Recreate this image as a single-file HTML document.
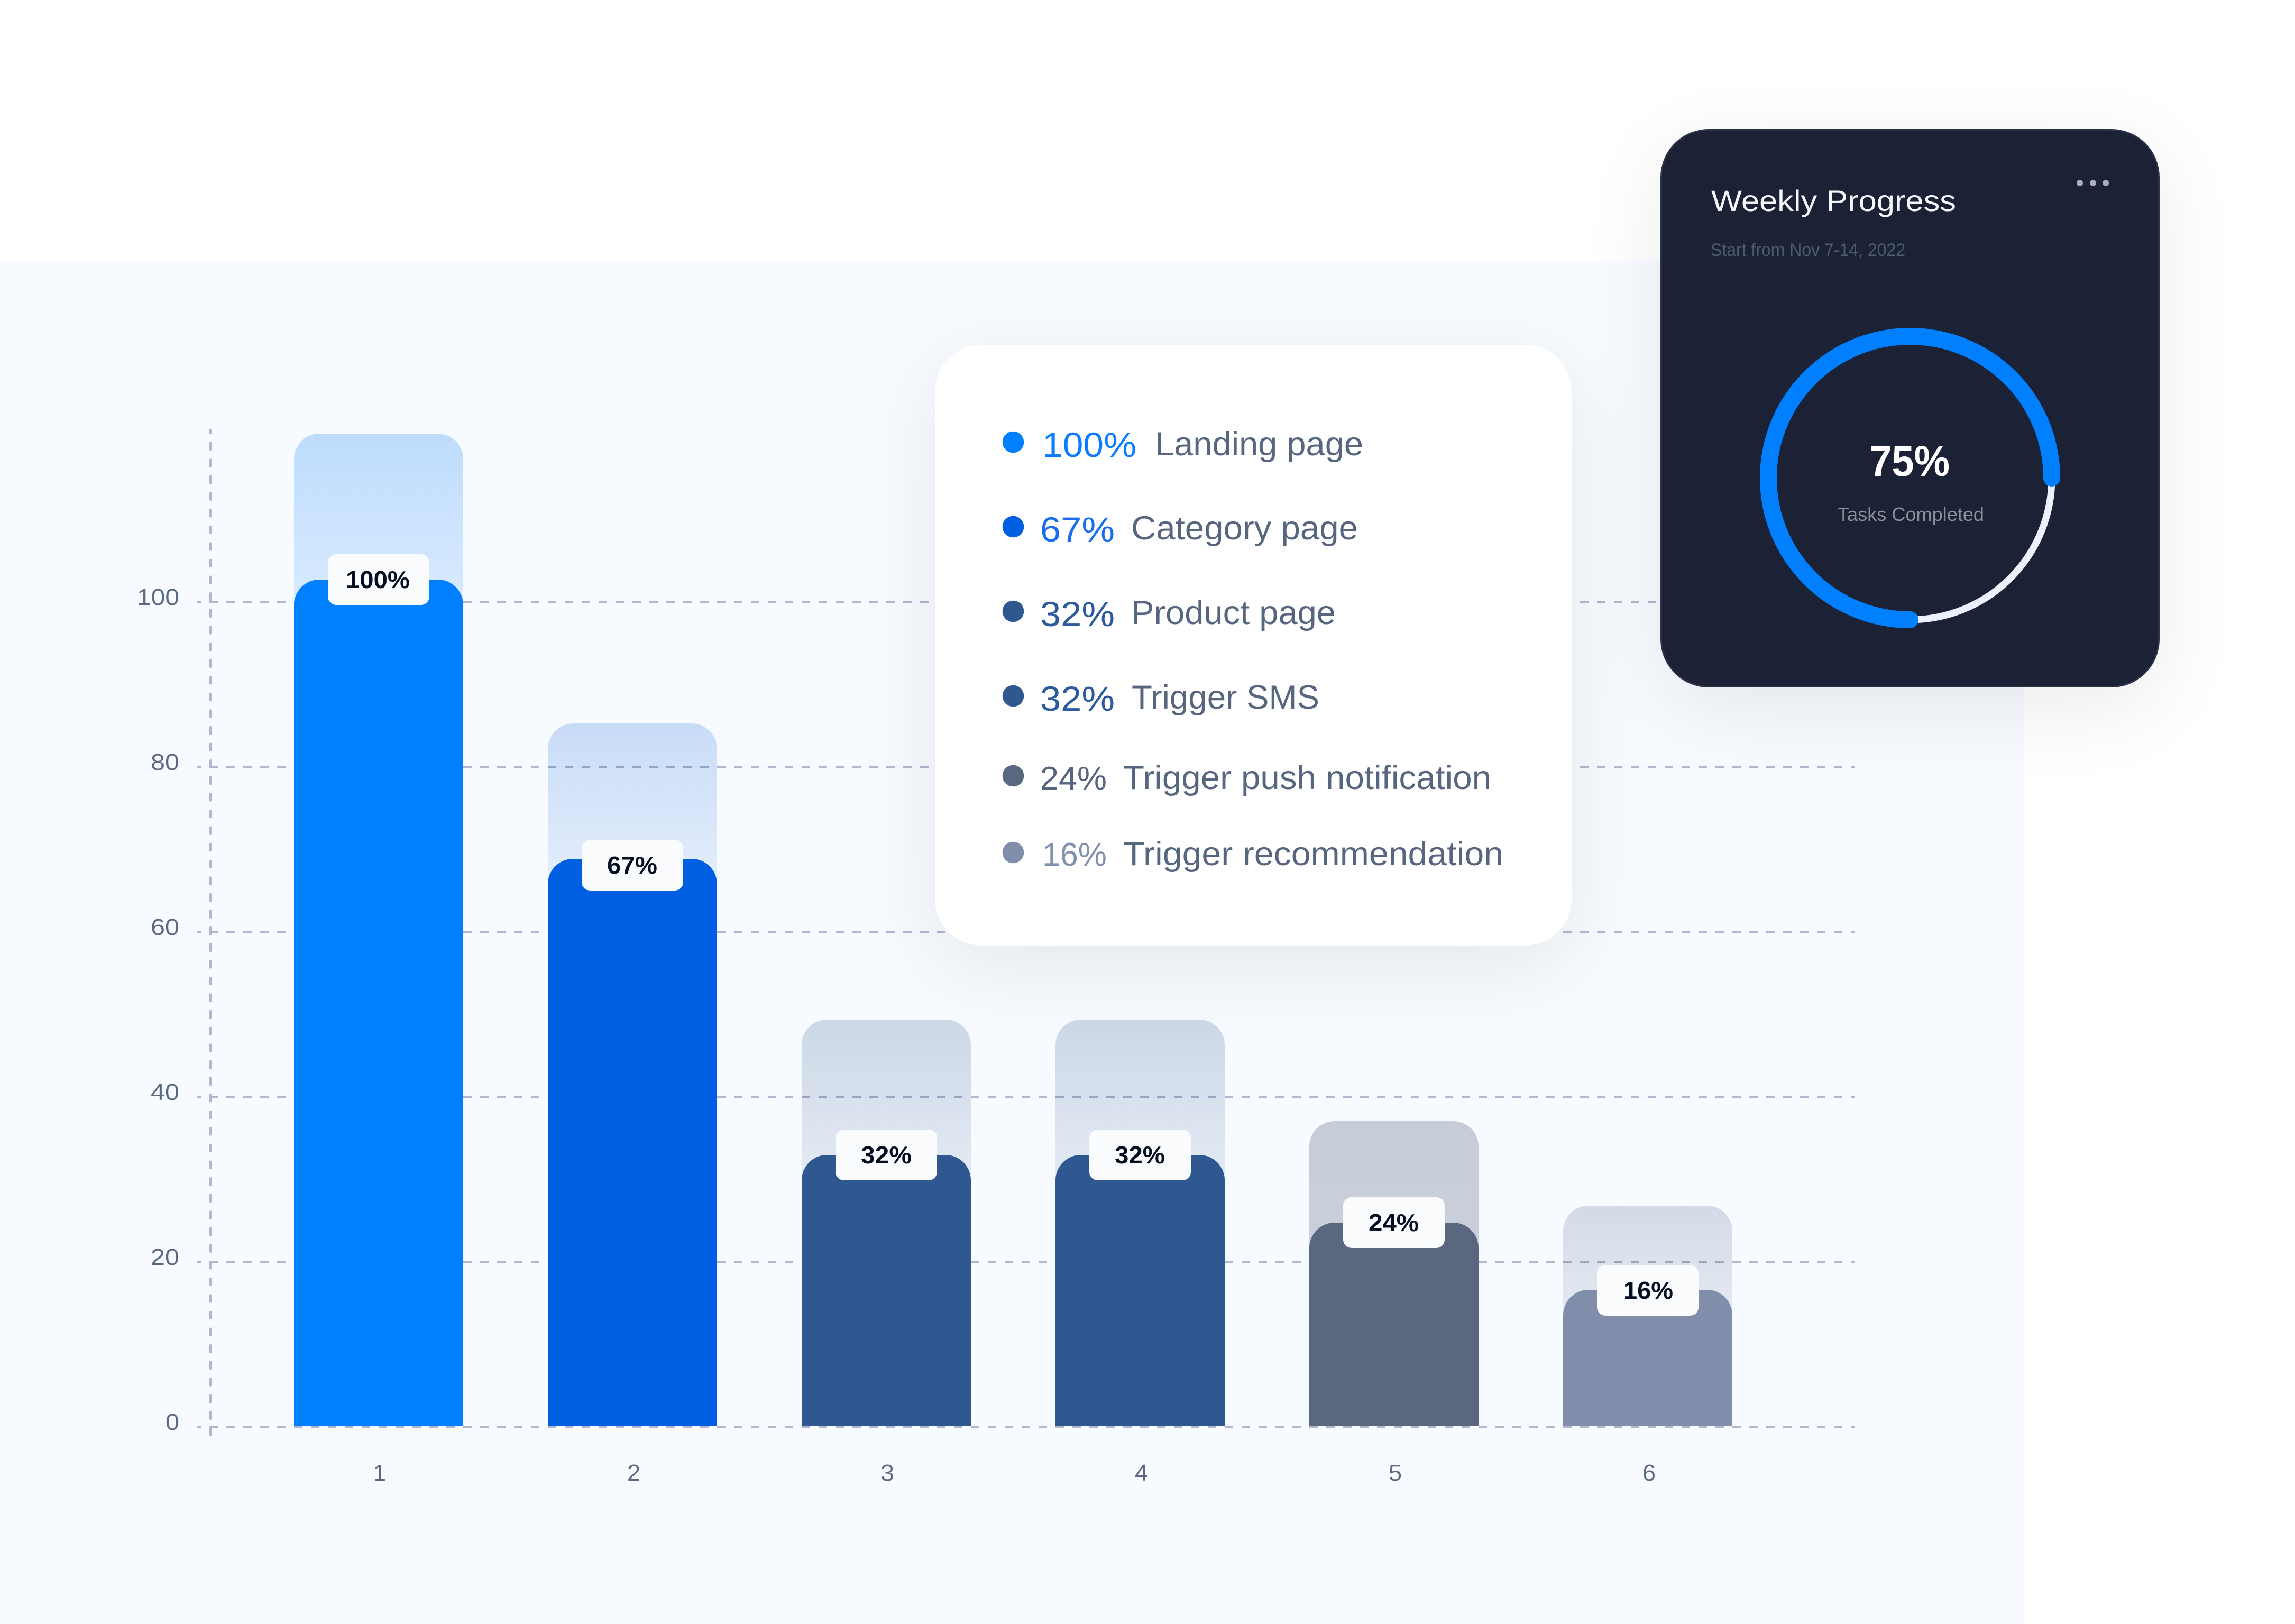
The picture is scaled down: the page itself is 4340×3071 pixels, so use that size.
<!DOCTYPE html>
<html lang="en">
<head>
<meta charset="utf-8">
<title>Weekly Progress Chart</title>
<style>
html,body{margin:0;padding:0;background:#fff;width:4340px;height:3071px;overflow:hidden}
svg{display:block;position:absolute;left:0;top:0}
text{font-family:"Liberation Sans",sans-serif}
.val{font-weight:700;font-size:46px;fill:#050f22}
.ax{font-size:44px;fill:#5a6880}
.pct{font-size:66px}
.lab{font-size:63px;fill:#56667f}
</style>
</head>
<body>
<svg width="4340" height="3071" viewBox="0 0 4340 3071" xmlns="http://www.w3.org/2000/svg">
<defs>
<linearGradient id="g1" x1="0" y1="0" x2="0" y2="1"><stop offset="0" stop-color="#bedcfd"/><stop offset="1" stop-color="#d9ebfe"/></linearGradient>
<linearGradient id="g2" x1="0" y1="0" x2="0" y2="1"><stop offset="0" stop-color="#c8dbf7"/><stop offset="1" stop-color="#e5effc"/></linearGradient>
<linearGradient id="g3" x1="0" y1="0" x2="0" y2="1"><stop offset="0" stop-color="#ccd8e7"/><stop offset="1" stop-color="#e4ebf4"/></linearGradient>
<linearGradient id="g5" x1="0" y1="0" x2="0" y2="1"><stop offset="0" stop-color="#c6ccd8"/><stop offset="1" stop-color="#c9cfdb"/></linearGradient>
<linearGradient id="g6" x1="0" y1="0" x2="0" y2="1"><stop offset="0" stop-color="#d3dae6"/><stop offset="1" stop-color="#e5ebf3"/></linearGradient>
<filter id="sh" filterUnits="userSpaceOnUse" x="0" y="0" width="4340" height="3071">
<feGaussianBlur in="SourceAlpha" stdDeviation="80"/>
<feOffset dy="40"/>
<feComponentTransfer><feFuncA type="linear" slope="0.08"/></feComponentTransfer>
<feMerge><feMergeNode/><feMergeNode in="SourceGraphic"/></feMerge>
</filter>
</defs>

<!-- panel -->
<rect x="0" y="493" width="3828" height="2578" fill="#f7fbff"/>

<!-- pale bars -->
<path d="M556 1156V868A48 48 0 0 1 604 820H828A48 48 0 0 1 876 868V1156Z" fill="url(#g1)"/>
<path d="M1036 1684V1416A48 48 0 0 1 1084 1368H1308A48 48 0 0 1 1356 1416V1684Z" fill="url(#g2)"/>
<path d="M1516 2244V1976A48 48 0 0 1 1564 1928H1788A48 48 0 0 1 1836 1976V2244Z" fill="url(#g3)"/>
<path d="M1996 2244V1976A48 48 0 0 1 2044 1928H2268A48 48 0 0 1 2316 1976V2244Z" fill="url(#g3)"/>
<path d="M2476 2372V2168A48 48 0 0 1 2524 2120H2748A48 48 0 0 1 2796 2168V2372Z" fill="url(#g5)"/>
<path d="M2956 2499V2328A48 48 0 0 1 3004 2280H3228A48 48 0 0 1 3276 2328V2499Z" fill="url(#g6)"/>

<!-- grid -->
<g style="mix-blend-mode:multiply" stroke="#b7bacf" stroke-width="4" fill="none">
<path stroke-dasharray="16 16" stroke-dashoffset="8" d="M372 1138H3508M372 1450H3508M372 1762H3508M372 2074H3508M372 2386H3508M372 2698H3508"/>
<path stroke-dasharray="15.8 15.8" stroke-dashoffset="7.6" d="M398 812V2716"/>
</g>

<!-- solid bars -->
<path d="M556 2696V1144A48 48 0 0 1 604 1096H828A48 48 0 0 1 876 1144V2696Z" fill="#0080ff"/>
<path d="M1036 2696V1672A48 48 0 0 1 1084 1624H1308A48 48 0 0 1 1356 1672V2696Z" fill="#005fe0"/>
<path d="M1516 2696V2232A48 48 0 0 1 1564 2184H1788A48 48 0 0 1 1836 2232V2696Z" fill="#2f5890"/>
<path d="M1996 2696V2232A48 48 0 0 1 2044 2184H2268A48 48 0 0 1 2316 2232V2696Z" fill="#2f5890"/>
<path d="M2476 2696V2360A48 48 0 0 1 2524 2312H2748A48 48 0 0 1 2796 2360V2696Z" fill="#59677f"/>
<path d="M2956 2696V2487A48 48 0 0 1 3004 2439H3228A48 48 0 0 1 3276 2487V2696Z" fill="#808dab"/>

<!-- value labels -->
<g fill="#fafbfd">
<rect x="620" y="1048" width="192" height="96" rx="16"/>
<rect x="1100" y="1588" width="192" height="96" rx="16"/>
<rect x="1580" y="2136" width="192" height="96" rx="16"/>
<rect x="2060" y="2136" width="192" height="96" rx="16"/>
<rect x="2540" y="2264" width="192" height="96" rx="16"/>
<rect x="3020" y="2392" width="192" height="96" rx="16"/>
</g>
<text class="val" x="654" y="1112" textLength="121" lengthAdjust="spacingAndGlyphs">100%</text>
<text class="val" x="1148" y="1652" textLength="95" lengthAdjust="spacingAndGlyphs">67%</text>
<text class="val" x="1628" y="2200" textLength="96" lengthAdjust="spacingAndGlyphs">32%</text>
<text class="val" x="2108" y="2200" textLength="95" lengthAdjust="spacingAndGlyphs">32%</text>
<text class="val" x="2588" y="2328" textLength="95" lengthAdjust="spacingAndGlyphs">24%</text>
<text class="val" x="3070" y="2456" textLength="94" lengthAdjust="spacingAndGlyphs">16%</text>

<!-- axes labels -->
<text class="ax" x="259" y="1144" textLength="80" lengthAdjust="spacingAndGlyphs">100</text>
<text class="ax" x="285" y="1456" textLength="54" lengthAdjust="spacingAndGlyphs">80</text>
<text class="ax" x="285" y="1768" textLength="54" lengthAdjust="spacingAndGlyphs">60</text>
<text class="ax" x="285" y="2080" textLength="54" lengthAdjust="spacingAndGlyphs">40</text>
<text class="ax" x="285" y="2392" textLength="54" lengthAdjust="spacingAndGlyphs">20</text>
<text class="ax" x="313" y="2704" textLength="26" lengthAdjust="spacingAndGlyphs">0</text>
<text class="ax" x="706" y="2800" textLength="24" lengthAdjust="spacingAndGlyphs">1</text>
<text class="ax" x="1186" y="2800" textLength="25" lengthAdjust="spacingAndGlyphs">2</text>
<text class="ax" x="1665" y="2800" textLength="26" lengthAdjust="spacingAndGlyphs">3</text>
<text class="ax" x="2146" y="2800" textLength="25" lengthAdjust="spacingAndGlyphs">4</text>
<text class="ax" x="2626" y="2800" textLength="25" lengthAdjust="spacingAndGlyphs">5</text>
<text class="ax" x="3106" y="2800" textLength="25" lengthAdjust="spacingAndGlyphs">6</text>

<!-- legend card -->
<rect x="1768" y="652" width="1204" height="1136" rx="88" fill="#ffffff" filter="url(#sh)"/>
<circle cx="1916" cy="836" r="20.3" fill="#0080ff"/>
<circle cx="1916" cy="996" r="20.3" fill="#005fe0"/>
<circle cx="1916" cy="1156" r="20.3" fill="#2f5890"/>
<circle cx="1916" cy="1316" r="20.3" fill="#2f5890"/>
<circle cx="1916" cy="1467" r="20.3" fill="#59677f"/>
<circle cx="1916" cy="1612" r="20.3" fill="#808dab"/>
<text class="pct" x="1971" y="864" fill="#0a7cff" textLength="178" lengthAdjust="spacingAndGlyphs">100%</text>
<text class="lab" x="2184" y="861" textLength="394" lengthAdjust="spacingAndGlyphs">Landing page</text>
<text class="pct" x="1967" y="1024" fill="#1a6cf0" textLength="141" lengthAdjust="spacingAndGlyphs">67%</text>
<text class="lab" x="2139" y="1020" textLength="429" lengthAdjust="spacingAndGlyphs">Category page</text>
<text class="pct" x="1967" y="1184" fill="#2d5a9c" textLength="141" lengthAdjust="spacingAndGlyphs">32%</text>
<text class="lab" x="2139" y="1180" textLength="387" lengthAdjust="spacingAndGlyphs">Product page</text>
<text class="pct" x="1967" y="1344" fill="#2d5a9c" textLength="141" lengthAdjust="spacingAndGlyphs">32%</text>
<text class="lab" x="2140" y="1340" textLength="355" lengthAdjust="spacingAndGlyphs">Trigger SMS</text>
<text class="pct" x="1967" y="1493" fill="#56647f" style="font-size:62px" textLength="126" lengthAdjust="spacingAndGlyphs">24%</text>
<text class="lab" x="2124" y="1492" textLength="696" lengthAdjust="spacingAndGlyphs">Trigger push notification</text>
<text class="pct" x="1971" y="1637" fill="#8090ad" style="font-size:62px" textLength="122" lengthAdjust="spacingAndGlyphs">16%</text>
<text class="lab" x="2124" y="1636" textLength="719" lengthAdjust="spacingAndGlyphs">Trigger recommendation</text>

<!-- dark card -->
<rect x="3141.5" y="245.5" width="941" height="1053" rx="90" fill="#1c2334" stroke="#2a3246" stroke-width="3" filter="url(#sh)"/>
<text x="3236" y="399" fill="#f4f6fa" style="font-size:56px" textLength="463" lengthAdjust="spacingAndGlyphs">Weekly Progress</text>
<text x="3235" y="484" fill="#4f5b73" style="font-size:34px" textLength="368" lengthAdjust="spacingAndGlyphs">Start from Nov 7-14, 2022</text>
<circle cx="3933" cy="346" r="6" fill="#a9aec4"/>
<circle cx="3958" cy="346" r="6" fill="#a9aec4"/>
<circle cx="3982" cy="346" r="6" fill="#a9aec4"/>
<path d="M3880 904A268 268 0 0 1 3612 1172" fill="none" stroke="#ecf2fd" stroke-width="13"/>
<path d="M3880 904A268 268 0 1 0 3612 1172" fill="none" stroke="#0080ff" stroke-width="32" stroke-linecap="round"/>
<text x="3535" y="900" fill="#ffffff" style="font-size:82px;font-weight:700" textLength="152" lengthAdjust="spacingAndGlyphs">75%</text>
<text x="3475" y="985" fill="#8a8f9c" style="font-size:36px" textLength="277" lengthAdjust="spacingAndGlyphs">Tasks Completed</text>
</svg>
</body>
</html>
